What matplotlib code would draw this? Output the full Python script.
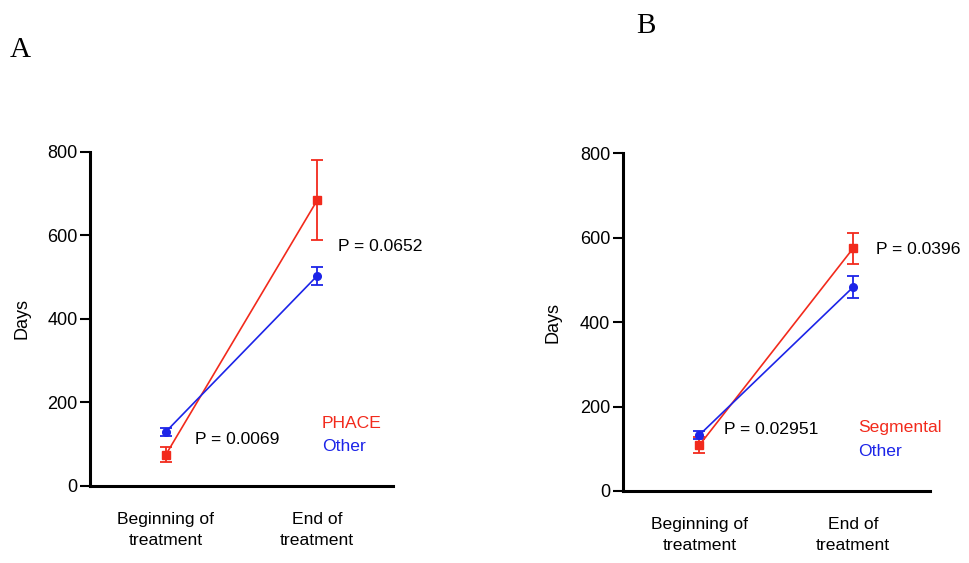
import numpy as np
import matplotlib.pyplot as plt

plt.rcParams['font.family'] = ['Liberation Sans', 'DejaVu Sans']

timepoints = ['Beginning of\ntreatment', 'End of\ntreatment']

# panel A: PHACE vs other
phace_mean = [74, 684]
phace_err = [18, 95]
otherA_mean = [129, 503]
otherA_err = [10, 22]
pvals_A = ['P = 0.0069', 'P = 0.0652']

# panel B: segmental vs other
seg_mean = [109, 575]
seg_err = [18, 37]
otherB_mean = [133, 483]
otherB_err = [9, 26]
pvals_B = ['P = 0.02951', 'P = 0.0396']

red = '#f22a1c'
blue = '#1c24e8'

fig = plt.figure(figsize=(9.69, 5.63), dpi=100)
axA = fig.add_axes([0.0929, 0.1373, 0.3127, 0.5932])
axB = fig.add_axes([0.6426, 0.1279, 0.3171, 0.5998])

x = np.arange(len(timepoints))


def panel(ax, m1, e1, m2, e2, name, pvals, ptxt_x):
    ax.errorbar(x, m1, yerr=e1, color=red, marker='s', ms=5.5, lw=1.2,
                capsize=4, elinewidth=1.3, capthick=1.3)
    ax.errorbar(x, m2, yerr=e2, color=blue, marker='o', ms=5.5, lw=1.2,
                capsize=4, elinewidth=1.3, capthick=1.3)
    ax.set_xlim(-0.5, 1.5)
    ax.set_ylim(0, 800)
    ax.set_yticks([0, 200, 400, 600, 800])
    ax.set_xticks(x)
    ax.set_xticklabels(timepoints, fontsize=12.6, linespacing=1.5)
    ax.tick_params(axis='x', length=0, pad=19)
    ax.tick_params(axis='y', length=7, width=1.5, labelsize=13, pad=2)
    for s in ['top', 'right']:
        ax.spines[s].set_visible(False)
    for s in ['left', 'bottom']:
        ax.spines[s].set_linewidth(2.2)
    ax.set_ylabel('Days', fontsize=13)
    ax.yaxis.set_label_coords(-0.198, 0.5)
    ax.text(ptxt_x[0], m1[0] + 36, pvals[0], fontsize=12.6, va='center')
    ax.text(ptxt_x[1], 572, pvals[1], fontsize=12.6, va='center')
    ax.text(1.03, 150, name, color=red, fontsize=12.6, va='center')
    ax.text(1.03, 93, 'Other', color=blue, fontsize=12.6, va='center')


panel(axA, phace_mean, phace_err, otherA_mean, otherA_err, 'PHACE', pvals_A, [0.19, 1.14])
panel(axB, seg_mean, seg_err, otherB_mean, otherB_err, 'Segmental', pvals_B, [0.157, 1.146])

fig.text(10 / 969, 1 - 57 / 563, 'A', fontsize=21, family='Liberation Serif', va='baseline')
fig.text(636 / 969, 1 - 33 / 563, 'B', fontsize=21, family='Liberation Serif', va='baseline')

fig.savefig('out.png', dpi=100)
